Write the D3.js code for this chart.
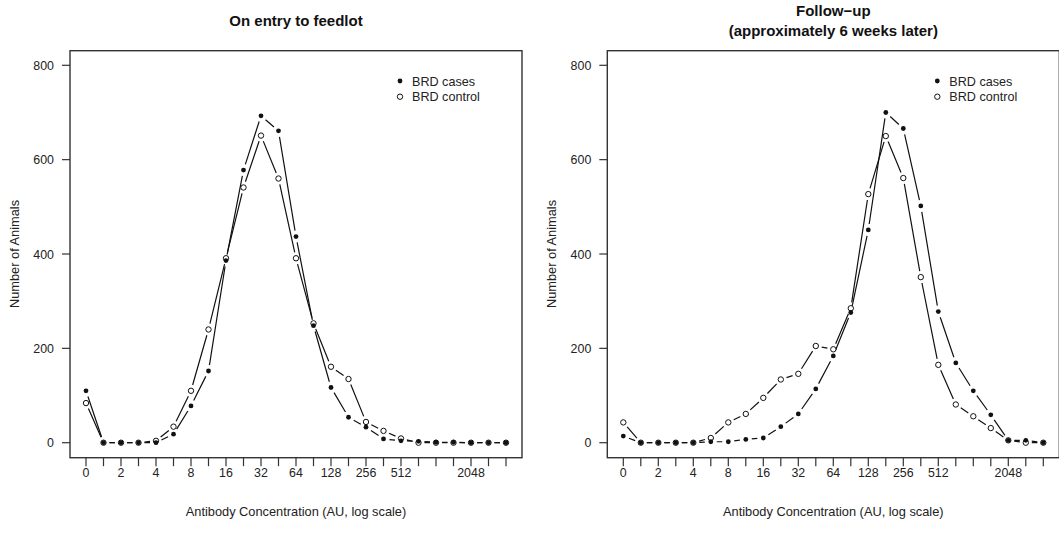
<!DOCTYPE html>
<html>
<head>
    <title>BRD antibody</title>
    <script src="https://d3js.org/d3.v7.min.js"></script>
    <style>
        body {
            margin: 0;
            background-color: #fff;
            font-family: 'Liberation Sans', Arial, sans-serif;
        }
        .tick-label {
            fill: #222;
            font-size: 12.4px;
        }
        .legend-label {
            fill: #222;
            font-size: 12.6px;
        }
        .axis-title {
            fill: #222;
            font-size: 12.8px;
        }
        .panel-title {
            fill: #111;
            font-size: 15px;
            font-weight: bold;
        }
        .frame {
            fill: none;
            stroke: #333;
            stroke-width: 1.4px;
        }
        .tick {
            stroke: #333;
            stroke-width: 1.2px;
        }
        .series {
            fill: none;
            stroke: #111;
            stroke-width: 1.2px;
        }
    </style>
</head>
<body>
    <div id="chart"></div>
    <script>
        // x positions are index steps on the log scale (two steps per doubling)
        const xTickIdx = d3.range(0, 25);
        const xTickLabels = ["0", "", "2", "", "4", "", "8", "", "16", "", "32", "", "64", "", "128", "", "256", "", "512", "", "", "", "2048", "", ""];
        const yTicks = [0, 200, 400, 600, 800];

        const entryCases = [110, 0, 0, 0, 0, 18, 78, 152, 386, 578, 693, 661, 437, 248, 117, 54, 33, 8, 4, 3, 1, 1, 0, 0, 0];
        const entryControl = [84, 0, 0, 0, 4, 34, 110, 240, 391, 541, 651, 560, 391, 253, 161, 135, 44, 25, 9, 0, 0, 0, 0, 0, 0];
        const followCases = [14, 0, 0, 0, 0, 2, 2, 7, 10, 34, 61, 114, 184, 276, 451, 700, 666, 502, 278, 169, 110, 59, 5, 5, 0];
        const followControl = [43, 0, 0, 0, 0, 10, 43, 61, 95, 134, 146, 205, 198, 285, 527, 650, 561, 351, 165, 81, 56, 31, 5, 0, 0];

        const seriesNames = ["BRD cases", "BRD control"];

        const width = 1059, height = 534;

        const svg = d3.select('#chart').append('svg')
            .attr("width", width)
            .attr("height", height);

        const panels = [
            { title: ["On entry to feedlot"], cases: entryCases, control: entryControl, x0: 86 },
            { title: ["Follow\u2212up", "(approximately 6 weeks later)"], cases: followCases, control: followControl, x0: 623.3 }
        ];

        panels.forEach(drawPanel);

        function drawPanel(p) {
            const step = 17.5;
            const x = d3.scaleLinear().domain([0, 24]).range([p.x0, p.x0 + 24 * step]);
            const y = d3.scaleLinear().domain([0, 800]).range([442.7, 65.3]);

            const left = x(0) - 16, right = x(24) + 16;
            const top = 50.7, bottom = 457.7;
            const g = svg.append("g");

            g.append("rect")
                .attr("class", "frame")
                .attr("x", left).attr("y", top)
                .attr("width", right - left).attr("height", bottom - top);

            // title
            const cx = (left + right) / 2;
            const titleY = p.title.length === 1 ? [25.5] : [16, 35.5];
            p.title.forEach((t, i) => {
                g.append("text")
                    .attr("class", "panel-title")
                    .attr("x", cx).attr("y", titleY[i])
                    .attr("text-anchor", "middle")
                    .text(t);
            });

            // y axis
            g.selectAll(".ytick").data(yTicks).join("line")
                .attr("class", "tick")
                .attr("x1", left).attr("x2", left - 8)
                .attr("y1", d => y(d)).attr("y2", d => y(d));
            g.selectAll(".ylab").data(yTicks).join("text")
                .attr("class", "tick-label")
                .attr("x", left - 16).attr("y", d => y(d) + 4.5)
                .attr("text-anchor", "end")
                .text(d => d);
            g.append("text")
                .attr("class", "axis-title")
                .attr("transform", `translate(${left - 51},${(65.3 + 442.7) / 2}) rotate(-90)`)
                .attr("text-anchor", "middle")
                .text("Number of Animals");

            // x axis
            g.selectAll(".xtick").data(xTickIdx).join("line")
                .attr("class", "tick")
                .attr("x1", d => x(d)).attr("x2", d => x(d))
                .attr("y1", bottom).attr("y2", bottom + 8.5);
            g.selectAll(".xlab").data(xTickIdx).join("text")
                .attr("class", "tick-label")
                .attr("x", d => x(d)).attr("y", 477.2)
                .attr("text-anchor", "middle")
                .text(d => xTickLabels[d]);
            g.append("text")
                .attr("class", "axis-title")
                .attr("x", cx).attr("y", 516)
                .attr("text-anchor", "middle")
                .text("Antibody Concentration (AU, log scale)");

            // lines with gaps around the points (like R type = "b")
            drawGapped(g, p.control, x, y);
            drawGapped(g, p.cases, x, y);

            g.selectAll(".ctrl").data(p.control).join("circle")
                .attr("cx", (d, i) => x(i)).attr("cy", d => y(d))
                .attr("r", 2.7)
                .attr("fill", "#fff").attr("stroke", "#111").attr("stroke-width", 1);
            g.selectAll(".case").data(p.cases).join("circle")
                .attr("cx", (d, i) => x(i)).attr("cy", d => y(d))
                .attr("r", 2.4)
                .attr("fill", "#111");

            // legend
            const lx = right - 122, ly = top + 30.3;
            g.append("circle").attr("cx", lx).attr("cy", ly).attr("r", 2.4).attr("fill", "#111");
            g.append("circle").attr("cx", lx).attr("cy", ly + 15.7).attr("r", 2.7)
                .attr("fill", "#fff").attr("stroke", "#111").attr("stroke-width", 1);
            seriesNames.forEach((s, i) => {
                g.append("text")
                    .attr("class", "legend-label")
                    .attr("x", lx + 12).attr("y", ly + i * 15.7 + 4.5)
                    .text(s);
            });
        }

        function drawGapped(g, values, x, y) {
            const gap = 6;
            let d = "";
            for (let i = 0; i < values.length - 1; i++) {
                const x1 = x(i), y1 = y(values[i]), x2 = x(i + 1), y2 = y(values[i + 1]);
                const len = Math.hypot(x2 - x1, y2 - y1);
                if (len <= 2 * gap) continue;
                const ux = (x2 - x1) / len, uy = (y2 - y1) / len;
                d += `M${x1 + ux * gap},${y1 + uy * gap}L${x2 - ux * gap},${y2 - uy * gap}`;
            }
            g.append("path").attr("class", "series").attr("d", d);
        }
    </script>
</body>
</html>
